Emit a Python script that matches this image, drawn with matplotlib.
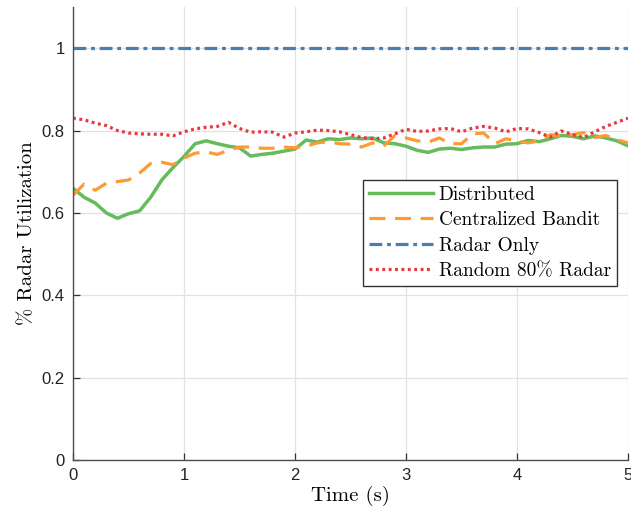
import numpy as np
import matplotlib
matplotlib.use('Agg')
import matplotlib.pyplot as plt

# ── data (0.1 s steps) ──────────────────────────────────────────────────────
time_s = np.round(np.arange(0, 5.01, 0.1), 2)

distributed = [0.660, 0.638, 0.624, 0.600, 0.587, 0.598, 0.605, 0.638, 0.680, 0.710,
               0.737, 0.768, 0.775, 0.768, 0.762, 0.758, 0.738, 0.742, 0.745, 0.750,
               0.755, 0.777, 0.772, 0.780, 0.778, 0.782, 0.780, 0.782, 0.770, 0.768,
               0.762, 0.752, 0.747, 0.755, 0.757, 0.754, 0.758, 0.760, 0.760, 0.767,
               0.768, 0.776, 0.773, 0.780, 0.788, 0.786, 0.780, 0.787, 0.782, 0.775,
               0.763]

centralized = [0.643, 0.670, 0.655, 0.672, 0.676, 0.680, 0.697, 0.720, 0.723, 0.717,
               0.733, 0.745, 0.748, 0.742, 0.752, 0.760, 0.760, 0.757, 0.757, 0.760,
               0.758, 0.762, 0.770, 0.773, 0.768, 0.767, 0.760, 0.770, 0.762, 0.788,
               0.782, 0.775, 0.772, 0.782, 0.768, 0.768, 0.792, 0.794, 0.768, 0.780,
               0.775, 0.770, 0.775, 0.790, 0.788, 0.790, 0.795, 0.783, 0.788, 0.778,
               0.770]

radar_only = [1.0] * len(time_s)

random80 = [0.830, 0.826, 0.818, 0.812, 0.800, 0.794, 0.792, 0.791, 0.791, 0.787,
            0.797, 0.804, 0.808, 0.810, 0.820, 0.805, 0.796, 0.797, 0.796, 0.784,
            0.794, 0.797, 0.801, 0.800, 0.797, 0.790, 0.783, 0.780, 0.782, 0.792,
            0.803, 0.798, 0.799, 0.804, 0.805, 0.797, 0.806, 0.810, 0.806, 0.797,
            0.805, 0.804, 0.795, 0.784, 0.799, 0.790, 0.783, 0.797, 0.810, 0.820,
            0.830]

labels = ['Distributed', 'Centralized Bandit', 'Radar Only', 'Random 80% Radar']

x_ticks = [0, 1, 2, 3, 4, 5]
y_ticks = [0, 0.2, 0.4, 0.6, 0.8, 1]
y_ticklabels = ['0', '0.2', '0.4', '0.6', '0.8', '1']

serif = 'cmr10'
plt.rcParams['axes.unicode_minus'] = False

fig = plt.figure(figsize=(6.31, 5.14), dpi=100, facecolor='white')
ax = fig.add_axes([73 / 631, 54 / 514, 555 / 631, 453 / 514])

ax.plot(time_s, distributed, color='#66bb5c', lw=2.5, label=labels[0])
ax.plot(time_s, centralized, color='#ff9a33', lw=2.3, dashes=(5, 3), label=labels[1])
ax.plot(time_s, radar_only, color='#4a7eb0', lw=2.3, dashes=(4, 1.5, 1.2, 1.5), label=labels[2])
ax.plot(time_s, random80, color='#e8383d', lw=2.3, linestyle=(0, (0.9, 1.1)), label=labels[3])

ax.set_xlim(0, 5)
ax.set_ylim(0, 1.1)
ax.set_xticks(x_ticks)
ax.set_yticks(y_ticks)
ax.set_yticklabels(y_ticklabels)
ax.grid(True, color='#e2e2e2', lw=0.9)
ax.set_axisbelow(True)

for side in ['top', 'right']:
    ax.spines[side].set_visible(False)
for side in ['left', 'bottom']:
    ax.spines[side].set_color('#4d4d4d')
    ax.spines[side].set_linewidth(1.0)
ax.tick_params(direction='in', length=5, width=0.9, color='#333333',
               labelsize=12, labelcolor='#222222', pad=6)
for lbl in ax.get_xticklabels() + ax.get_yticklabels():
    lbl.set_fontfamily('Liberation Sans')

ax.set_xlabel('Time (s)', fontfamily=serif, fontsize=15, labelpad=2)
ax.set_ylabel('% Radar Utilization', fontfamily=serif, fontsize=15, labelpad=4)

leg = ax.legend(loc='upper left', bbox_to_anchor=(0.5225, 0.618),
                prop={'family': serif, 'size': 14}, handlelength=3.3,
                handletextpad=0.3, labelspacing=0.38, borderpad=0.3,
                borderaxespad=0, fancybox=False, framealpha=1)
leg.get_frame().set_edgecolor('#333333')
leg.get_frame().set_linewidth(1.0)

fig.savefig('out.png', dpi=100)
